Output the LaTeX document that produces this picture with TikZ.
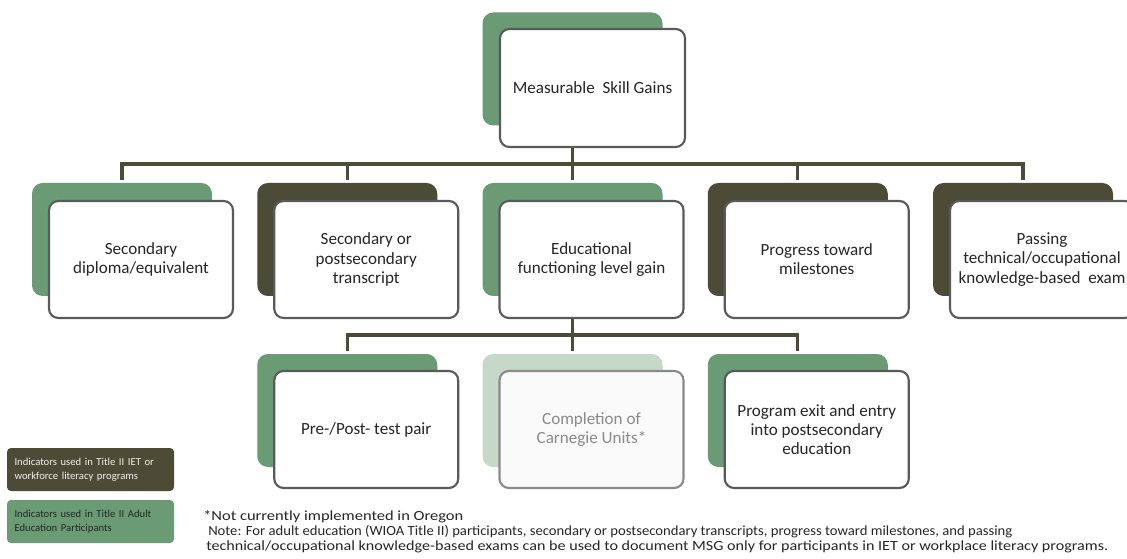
\documentclass[tikz,border=0pt]{standalone}
\usepackage{fontspec}
\setmainfont{Carlito}
\begin{document}
\begin{tikzpicture}[x=0.75pt,y=-0.75pt,
  font=\fontsize{12.8pt}{14.4pt}\selectfont,
  front/.style={draw=framegray, line width=1.6pt, fill=white, rounded corners=7pt,
    minimum width=184*0.75pt, minimum height=117*0.75pt, align=center, text=txt, inner sep=0pt},
  backg/.style={fill=mgreen, rounded corners=8pt, minimum width=180*0.75pt, minimum height=113*0.75pt, inner sep=0pt},
  backd/.style={fill=olive, rounded corners=8pt, minimum width=180*0.75pt, minimum height=113*0.75pt, inner sep=0pt},
  conn/.style={draw=olive, line width=2.3pt},
  legend/.style={rounded corners=3pt, minimum width=167*0.75pt, minimum height=43*0.75pt, inner sep=0pt,
    align=left, text width=152*0.75pt, font=\fontsize{8pt}{10.5pt}\selectfont},
  note/.style={anchor=base west, inner sep=0pt, text=txt, font=\fontsize{10.5pt}{11pt}\selectfont}
]
\definecolor{mgreen}{HTML}{6A9B74}
\definecolor{olive}{HTML}{4B4B36}
\definecolor{fadegreen}{HTML}{C6D8C8}
\definecolor{framegray}{HTML}{5A5A5A}
\definecolor{fadegray}{HTML}{8A8A8A}
\definecolor{txt}{HTML}{262626}
\useasboundingbox (0,0) rectangle (1127,559);
\clip (0,0) rectangle (1127,559);
\fill[white] (0,0) rectangle (1127,559);

% top
\node[backg] (topb) at (572.5,69) {};
\node[front, minimum width=185*0.75pt, minimum height=118*0.75pt] (topf) at (592.5,88) {Measurable\ \ Skill Gains};

% row 2
\node[backg] (b1) at (122,239.5) {};
\node[backd] (b2) at (347.25,239.5) {};
\node[backg] (b3) at (572.5,239.5) {};
\node[backd] (b4) at (797.75,239.5) {};
\node[backd] (b5) at (1023,239.5) {};
\node[front] (f1) at (141,259.5) {Secondary\\diploma/equivalent};
\node[front] (f2) at (366.25,259.5) {Secondary or\\postsecondary\\transcript};
\node[front] (f3) at (591.5,259.5) {Educational\\functioning level gain};
\node[front] (f4) at (816.75,259.5) {Progress toward\\milestones};
\node[front] (f5) at (1042,259.5) {Passing\\technical/occupational\\knowledge-based\ \ exam};

% row 3
\node[backg] (c1) at (347.25,410.5) {};
\node[backg, fill=fadegreen] (c2) at (572.5,410.5) {};
\node[backg] (c3) at (797.75,410.5) {};
\node[front] (g1) at (366.25,429.5) {Pre-/Post- test pair};
\node[front, draw=fadegray, fill=white!96!gray, text=fadegray] (g2) at (591.5,429.5) {Completion of\\Carnegie Units*};
\node[front] (g3) at (816.75,429.5) {Program exit and entry\\into postsecondary\\education};

% connectors
\coordinate (bus) at (572.5,164);
\draw[conn] (topf.south -| topb.north) -- (bus);
\draw[conn] ([yshift=3*0.75pt]b1.north) |- (bus) -| ([yshift=3*0.75pt]b5.north);
\draw[conn] (bus -| b2.north) -- ([yshift=3*0.75pt]b2.north);
\draw[conn] (bus) -- ([yshift=3*0.75pt]b3.north);
\draw[conn] (bus -| b4.north) -- ([yshift=3*0.75pt]b4.north);

\coordinate (bus2) at (572.5,335);
\draw[conn] (f3.south -| b3.north) -- (bus2);
\draw[conn] ([yshift=3*0.75pt]c1.north) |- (bus2) -| ([yshift=3*0.75pt]c3.north);
\draw[conn] (bus2) -- ([yshift=3*0.75pt]c2.north);

% legend
\node[legend, fill=olive, text=white!92!olive] (l1) at (90.5,469.5) {Indicators used in Title II IET or\\workforce literacy programs};
\node[legend, fill=mgreen, text=txt] (l2) at (90.5,521.5) {Indicators used in Title II Adult\\Education Participants};

% notes
\node[note] (n1) at (203,520) {\resizebox{195pt}{\height}{*Not currently implemented in Oregon}};
\node[note] (n2) at (208,535) {\resizebox{603pt}{\height}{Note: For adult education (WIOA Title II) participants, secondary or postsecondary transcripts, progress toward milestones, and passing}};
\node[note] (n3) at (206,550) {\resizebox{676.5pt}{\height}{technical/occupational knowledge-based exams can be used to document MSG only for participants in IET or workplace literacy programs.}};
\end{tikzpicture}
\end{document}
